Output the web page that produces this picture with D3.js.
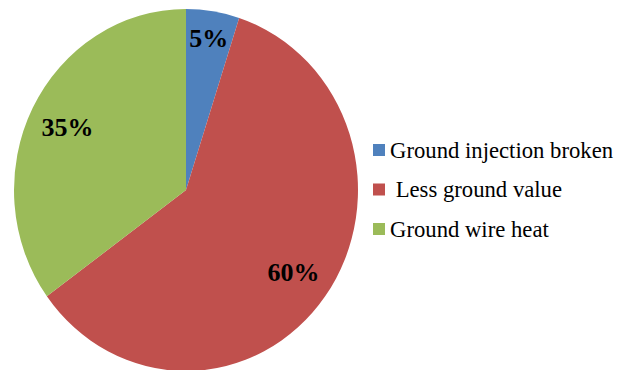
<!DOCTYPE html>
<html>
<head>
<meta charset="utf-8">
<script src="https://cdn.jsdelivr.net/npm/d3@7/dist/d3.min.js"></script>
<style>
  html, body { margin: 0; padding: 0; background: #fff; }
  svg { display: block; }
</style>
</head>
<body>
<svg id="chart" width="624" height="370"></svg>
<script>
const categories = ["Ground injection broken", " Less ground value", "Ground wire heat"];
const values = [5, 60, 35];
const valueLabels = ["5%", "60%", "35%"];
const colors = ["#4F81BD", "#C0504D", "#9BBB59"];

const svg = d3.select("#chart");
const cx = 186, cy = 190, r = 172, yScale = 1.052;

const pie = d3.pie().sort(null).value(d => d)(values);
const arc = d3.arc().innerRadius(0).outerRadius(r);

const g = svg.append("g").attr("transform", `translate(${cx},${cy}) scale(1,${yScale})`);
g.selectAll("path").data(pie).enter().append("path")
  .attr("d", arc)
  .attr("fill", (d, i) => colors[i]);

const total = d3.sum(values);
const labelArc = d => {
  const lr = d.value / total < 0.1 ? 146 : 133;
  return d3.arc().innerRadius(lr).outerRadius(lr).centroid(d);
};
svg.append("g").selectAll("text").data(pie).enter().append("text")
  .attr("x", d => cx + labelArc(d)[0])
  .attr("y", d => cy + labelArc(d)[1] * yScale)
  .attr("dy", "0.35em")
  .attr("text-anchor", "middle")
  .attr("font-family", "'Liberation Serif', 'Times New Roman', serif")
  .attr("font-weight", "bold")
  .attr("font-size", 26)
  .attr("fill", "#000")
  .text((d, i) => valueLabels[i]);

const legend = svg.append("g").attr("transform", "translate(373,0)");
const ly = d3.scalePoint().domain(categories).range([150, 229]);
const items = legend.selectAll("g").data(categories).enter().append("g")
  .attr("transform", d => `translate(0,${ly(d)})`);
items.append("rect")
  .attr("x", 0).attr("y", -6).attr("width", 12).attr("height", 12)
  .attr("fill", (d, i) => colors[i]);
items.append("text")
  .attr("x", 17).attr("y", 0).attr("dy", "0.33em")
  .attr("font-family", "'Liberation Serif', 'Times New Roman', serif")
  .attr("font-size", 22.7)
  .attr("fill", "#000")
  .attr("xml:space", "preserve")
  .style("white-space", "pre")
  .text(d => d);
</script>
</body>
</html>
